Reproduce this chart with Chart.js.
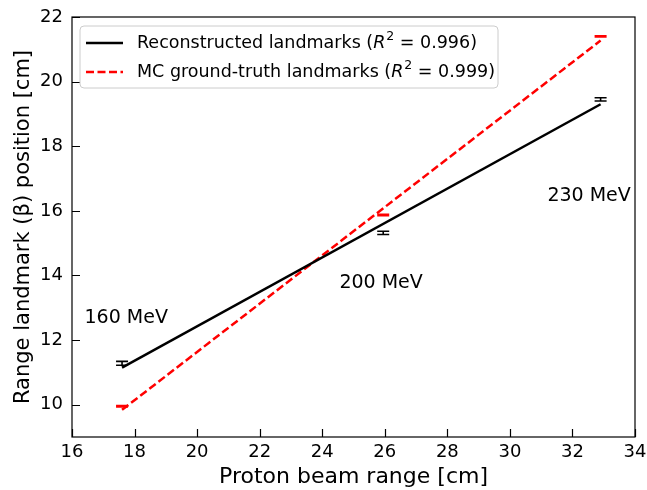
<!DOCTYPE html>
<html>
<head>
<meta charset="utf-8">
<script src="https://cdn.jsdelivr.net/npm/chart.js@4.4.0/dist/chart.umd.min.js"></script>
<style>
  html, body { margin: 0; padding: 0; background: #fff; }
</style>
</head>
<body>
<canvas id="chart" width="647" height="490"></canvas>
<script>
// values
const beamRange = [17.6, 25.95, 32.9];
const recoPos = [11.28, 15.32, 19.45];
const recoErr = [0.06, 0.05, 0.05];
const mcPos = [9.95, 15.87, 21.4];
const mcErr = [0.02, 0.02, 0.02];

const fitX = [17.6, 32.9];
const recoFit = [11.15, 19.3];
const mcFit = [9.84, 21.27];

const energyLabels = ['160 MeV', '200 MeV', '230 MeV'];
const labelX = [16.4, 24.55, 31.2];
const labelY = [12.68, 13.75, 16.45];

const xTicks = [16, 18, 20, 22, 24, 26, 28, 30, 32, 34];
const yTicks = [10, 12, 14, 16, 18, 20, 22];

const FONT = '"DejaVu Sans", sans-serif';

const legendItems = [
  { pre: 'Reconstructed landmarks (', post: ' = 0.996)', color: '#000000', dash: [] },
  { pre: 'MC ground-truth landmarks (', post: ' = 0.999)', color: '#ff0000', dash: [8, 3.5] }
];

const toXY = (xs, ys) => xs.map((x, i) => ({ x: x, y: ys[i] }));

const framePlugin = {
  id: 'frame',
  afterDatasetsDraw(chart) {
    const { ctx, chartArea: a, scales } = chart;
    ctx.save();

    // error bars
    const drawErr = (ys, errs, color) => {
      ctx.strokeStyle = color;
      ctx.lineWidth = 1.6;
      ctx.setLineDash([]);
      beamRange.forEach((x, i) => {
        const px = scales.x.getPixelForValue(x);
        const top = scales.y.getPixelForValue(ys[i] + errs[i]);
        const bot = scales.y.getPixelForValue(ys[i] - errs[i]);
        ctx.beginPath();
        ctx.moveTo(px, top); ctx.lineTo(px, bot);
        ctx.moveTo(px - 6, top); ctx.lineTo(px + 6, top);
        ctx.moveTo(px - 6, bot); ctx.lineTo(px + 6, bot);
        ctx.stroke();
      });
    };
    drawErr(recoPos, recoErr, '#000000');
    drawErr(mcPos, mcErr, '#ff0000');

    // frame
    ctx.strokeStyle = '#000';
    ctx.lineWidth = 1.2;
    ctx.strokeRect(a.left, a.top, a.right - a.left, a.bottom - a.top);

    // inward ticks
    ctx.beginPath();
    xTicks.forEach(v => {
      const px = Math.round(scales.x.getPixelForValue(v)) + 0.5;
      ctx.moveTo(px, a.bottom); ctx.lineTo(px, a.bottom - 8);
    });
    yTicks.forEach(v => {
      const py = Math.round(scales.y.getPixelForValue(v)) + 0.5;
      ctx.moveTo(a.left, py); ctx.lineTo(a.left + 8, py);
    });
    ctx.stroke();

    // energy labels
    ctx.fillStyle = '#000';
    ctx.font = '19px ' + FONT;
    ctx.textAlign = 'left';
    ctx.textBaseline = 'middle';
    energyLabels.forEach((t, i) => {
      ctx.fillText(t, scales.x.getPixelForValue(labelX[i]), scales.y.getPixelForValue(labelY[i]));
    });

    // legend
    const bx = 80, by = 26, bw = 418, bh = 62, r = 4;
    ctx.beginPath();
    ctx.moveTo(bx + r, by);
    ctx.arcTo(bx + bw, by, bx + bw, by + bh, r);
    ctx.arcTo(bx + bw, by + bh, bx, by + bh, r);
    ctx.arcTo(bx, by + bh, bx, by, r);
    ctx.arcTo(bx, by, bx + bw, by, r);
    ctx.closePath();
    ctx.fillStyle = 'rgba(255,255,255,0.8)';
    ctx.fill();
    ctx.strokeStyle = '#cccccc';
    ctx.lineWidth = 1;
    ctx.stroke();

    legendItems.forEach((it, i) => {
      const y = 43 + i * 29;
      ctx.strokeStyle = it.color;
      ctx.lineWidth = 2.5;
      ctx.setLineDash(it.dash);
      ctx.beginPath();
      ctx.moveTo(86, y); ctx.lineTo(123, y);
      ctx.stroke();
      ctx.setLineDash([]);

      ctx.fillStyle = '#000';
      ctx.textBaseline = 'middle';
      let x = 137;
      ctx.font = '17.5px ' + FONT;
      ctx.fillText(it.pre, x, y);
      x += ctx.measureText(it.pre).width;
      ctx.font = 'italic 17.5px ' + FONT;
      ctx.fillText('R', x, y);
      x += ctx.measureText('R').width + 1;
      ctx.font = '12.5px ' + FONT;
      ctx.fillText('2', x, y - 6);
      x += ctx.measureText('2').width;
      ctx.font = '17.5px ' + FONT;
      ctx.fillText(it.post, x, y);
    });

    ctx.restore();
  }
};

new Chart(document.getElementById('chart'), {
  type: 'scatter',
  data: {
    datasets: [
      {
        label: 'Reconstructed landmarks',
        data: toXY(fitX, recoFit),
        showLine: true,
        borderColor: '#000000',
        borderWidth: 2.5,
        pointRadius: 0
      },
      {
        label: 'MC ground-truth landmarks',
        data: toXY(fitX, mcFit),
        showLine: true,
        borderColor: '#ff0000',
        borderWidth: 2.5,
        borderDash: [8, 3.5],
        pointRadius: 0
      }
    ]
  },
  options: {
    responsive: false,
    animation: false,
    layout: { padding: { top: 17, right: 12, left: 0, bottom: 0 } },
    plugins: { legend: { display: false }, tooltip: { enabled: false } },
    scales: {
      x: {
        type: 'linear',
        min: 16, max: 34,
        afterBuildTicks: s => { s.ticks = xTicks.map(v => ({ value: v })); },
        afterFit: s => { s.height = 53; s.paddingLeft = 0; s.paddingRight = 0; },
        grid: { display: false, drawTicks: false },
        border: { display: false },
        ticks: { color: '#000', padding: 5, font: { family: FONT, size: 18 } },
        title: {
          display: true,
          text: 'Proton beam range [cm]',
          color: '#000',
          padding: { top: 0, bottom: 0 },
          font: { family: FONT, size: 22 }
        }
      },
      y: {
        type: 'linear',
        min: 9, max: 22,
        afterBuildTicks: s => { s.ticks = yTicks.map(v => ({ value: v })); },
        afterFit: s => { s.width = 72; s.paddingTop = 0; s.paddingBottom = 0; },
        grid: { display: false, drawTicks: false },
        border: { display: false },
        ticks: { color: '#000', padding: 9, font: { family: FONT, size: 18 } },
        title: {
          display: true,
          text: 'Range landmark (β) position [cm]',
          color: '#000',
          padding: { top: 11, bottom: 0 },
          font: { family: FONT, size: 21 }
        }
      }
    }
  },
  plugins: [framePlugin]
});
</script>
</body>
</html>
